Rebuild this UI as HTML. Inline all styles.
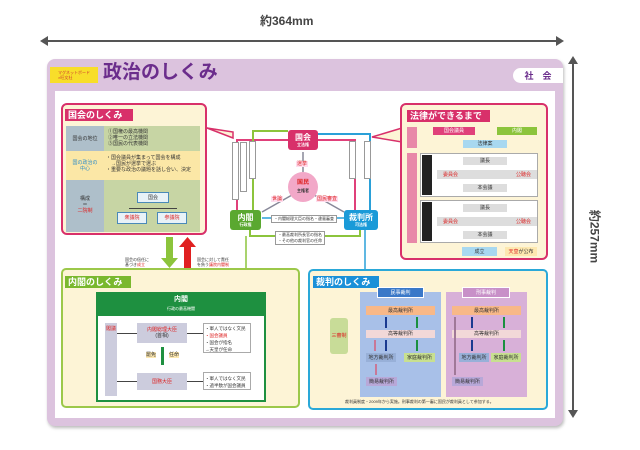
<!DOCTYPE html>
<html><head><meta charset="utf-8"><style>
*{margin:0;padding:0;box-sizing:border-box}
body{width:640px;height:450px;background:#fff;position:relative;overflow:hidden;font-family:"Liberation Sans","Noto Sans CJK JP",sans-serif}
.a{position:absolute}
.t{font-size:5px;line-height:6px;color:#333;text-align:center}
.tab{position:absolute;color:#fff;font-weight:bold;font-size:9px;line-height:12px;padding-left:3px}
.c{display:flex;align-items:center;justify-content:center}
</style></head><body>
<div class="a" style="left:260px;top:12px;font-size:12px;font-weight:bold;color:#444">約364mm</div>
<div class="a" style="left:46px;top:40px;width:512px;height:2px;background:#555"></div>
<div class="a" style="left:40px;top:36px;border-right:8px solid #555;border-top:5px solid transparent;border-bottom:5px solid transparent"></div>
<div class="a" style="left:556px;top:36px;border-left:8px solid #555;border-top:5px solid transparent;border-bottom:5px solid transparent"></div>
<div class="a" style="left:572px;top:62px;width:2px;height:350px;background:#555"></div>
<div class="a" style="left:568px;top:56px;border-bottom:8px solid #555;border-left:5px solid transparent;border-right:5px solid transparent"></div>
<div class="a" style="left:568px;top:410px;border-top:8px solid #555;border-left:5px solid transparent;border-right:5px solid transparent"></div>
<div class="a" style="left:560px;top:228px;font-size:12px;font-weight:bold;color:#444;transform:rotate(90deg);transform-origin:center;width:70px;text-align:center">約257mm</div>

<div class="a" style="left:47px;top:59px;width:516px;height:367px;background:#dcc3de;border-radius:8px;box-shadow:1px 2px 3px #bbb"></div>
<div class="a" style="left:55px;top:91px;width:500px;height:327px;background:#fff"></div>
<div class="a c" style="left:50px;top:67px;width:48px;height:16px;background:#f8de2a;font-size:4px;color:#c33;line-height:5px;flex-direction:column">マグネットボード<br>×旺文社</div>
<div class="a" style="left:103px;top:61px;font-size:19px;font-weight:bold;color:#6b2d8c;line-height:23px">政治のしくみ</div>
<div class="a c" style="left:513px;top:68px;width:50px;height:15px;background:#fff;border-radius:8px 0 0 8px;font-size:9px;font-weight:bold;color:#6b2d8c">社　会</div>

<div class="a" style="left:61px;top:103px;width:146px;height:132px;background:#fdf4d6;border:2px solid #d8306a;border-radius:6px"></div>
<div class="tab" style="left:65px;top:109px;width:68px;background:#d8306a">国会のしくみ</div>
<div class="a" style="left:66px;top:126px;width:38px;height:25px;background:#aebfca"></div>
<div class="a" style="left:104px;top:126px;width:96px;height:25px;background:#c7d5a4"></div>
<div class="a t" style="left:66px;top:136px;width:38px">国会の地位</div>
<div class="a t" style="left:108px;top:129px;text-align:left">①国権の最高機関<br>②唯一の立法機関<br>③国民の代表機関</div>
<div class="a" style="left:66px;top:151px;width:134px;height:29px;background:#fbe7a6"></div>
<div class="a t" style="left:66px;top:160px;width:38px;color:#2a8ac8">国の政治の<br>中心</div>
<div class="a t" style="left:106px;top:155px;text-align:left">・国会議員が集まって国会を構成<br>　→国民が選挙で選ぶ<br>・重要な政治の議題を話し合い、決定</div>
<div class="a" style="left:66px;top:180px;width:38px;height:52px;background:#aebfca"></div>
<div class="a" style="left:104px;top:180px;width:96px;height:52px;background:#c7d5a4"></div>
<div class="a t" style="left:66px;top:196px;width:38px">構成<br>＝<br><span style="color:#d22">二院制</span></div>
<div class="a t c" style="left:137px;top:192px;width:32px;height:11px;background:#e8f2f8;border:1px solid #4a8ab8">国会</div>
<div class="a" style="left:129px;top:208px;width:48px;height:1px;background:#444"></div>
<div class="a t c" style="left:117px;top:212px;width:30px;height:12px;background:#e8f2f8;border:1px solid #4a8ab8;color:#d22">衆議院</div>
<div class="a t c" style="left:157px;top:212px;width:30px;height:12px;background:#e8f2f8;border:1px solid #4a8ab8;color:#d22">参議院</div>

<svg class="a" style="left:0;top:0" width="640" height="450">
 <polygon points="207,128 233,132 233,138" fill="#fdf4d6" stroke="#d8306a" stroke-width="1.5"/>
 <polygon points="402,128 372,137 402,142" fill="#fdf4d6" stroke="#d8306a" stroke-width="1.5"/>
 <polyline points="288,140 237,140 237,210" fill="none" stroke="#e0407a" stroke-width="2"/>
 <polyline points="318,140 355,140 355,210" fill="none" stroke="#e0407a" stroke-width="2"/>
 <polyline points="253,210 253,131 288,131" fill="none" stroke="#8cc43c" stroke-width="2"/>
 <polyline points="250,230 250,236 360,236 360,230" fill="none" stroke="#8cc43c" stroke-width="2"/>
 <polyline points="370,210 370,134 318,134" fill="none" stroke="#2aa0d8" stroke-width="2"/>
 <line x1="345" y1="218" x2="262" y2="218" stroke="#2aa0d8" stroke-width="1.5"/>
 <line x1="303" y1="172" x2="303" y2="152" stroke="#889" stroke-width="1.5"/>
 <line x1="292" y1="195" x2="262" y2="212" stroke="#889" stroke-width="1.5"/>
 <line x1="314" y1="195" x2="344" y2="212" stroke="#889" stroke-width="1.5"/>
 <line x1="246" y1="236" x2="246" y2="268" stroke="#8cc43c" stroke-width="1.5"/>
 <line x1="365" y1="230" x2="365" y2="270" stroke="#2aa0d8" stroke-width="1.5"/>
 <circle cx="303" cy="187" r="15" fill="#f2a8c8"/>
 <rect x="166" y="237" width="7" height="22" fill="#8cc43c"/>
 <polygon points="161,258 178,258 169.5,268" fill="#8cc43c"/>
 <rect x="184" y="246" width="7" height="23" fill="#e02020"/>
 <polygon points="179,247 196,247 187.5,237" fill="#e02020"/>
</svg>
<div class="a c" style="left:288px;top:130px;width:30px;height:20px;background:#d8306a;border-radius:3px;color:#fff;font-size:8px;font-weight:bold;flex-direction:column;line-height:9px">国会<span style="font-size:4px;line-height:5px">立法権</span></div>
<div class="a c" style="left:289px;top:178px;width:28px;height:18px;color:#d22;font-size:6px;font-weight:bold;flex-direction:column;line-height:7px">国民<span style="font-size:4px;color:#333">主権者</span></div>
<div class="a c" style="left:230px;top:210px;width:31px;height:20px;background:#5aa830;border-radius:3px;color:#fff;font-size:8px;font-weight:bold;flex-direction:column;line-height:9px">内閣<span style="font-size:4px;line-height:5px">行政権</span></div>
<div class="a c" style="left:344px;top:210px;width:34px;height:20px;background:#1a9ad8;border-radius:3px;color:#fff;font-size:8px;font-weight:bold;flex-direction:column;line-height:9px">裁判所<span style="font-size:4px;line-height:5px">司法権</span></div>
<div class="a t" style="left:296px;top:161px;background:#fde;color:#d22;padding:0 1px">選挙</div>
<div class="a t" style="left:271px;top:196px;background:#fde;color:#d22;padding:0 1px">世論</div>
<div class="a t" style="left:316px;top:196px;background:#fde;color:#d22;padding:0 1px">国民審査</div>
<div class="a" style="left:232px;top:142px;width:7px;height:58px;background:#fff;border:1px solid #999"></div>
<div class="a" style="left:240px;top:142px;width:7px;height:50px;background:#fff;border:1px solid #999"></div>
<div class="a" style="left:249px;top:141px;width:7px;height:38px;background:#fff;border:1px solid #999"></div>
<div class="a" style="left:349px;top:141px;width:7px;height:38px;background:#fff;border:1px solid #999"></div>
<div class="a" style="left:364px;top:141px;width:7px;height:38px;background:#fff;border:1px solid #999"></div>
<div class="a t" style="left:271px;top:215px;background:#fff;border:1px solid #999;padding:0 2px;font-size:4px">・内閣総理大臣の指名・違憲審査</div>
<div class="a t" style="left:275px;top:231px;background:#fff;border:1px solid #999;padding:0 2px;font-size:4px;text-align:left">・最高裁判所長官の指名<br>・その他の裁判官の任命</div>
<div class="a t" style="left:125px;top:257px;font-size:4px;line-height:5px;text-align:left;background:#fff">国会の信任に<br>基づき<span style="color:#d22">成立</span></div>
<div class="a t" style="left:197px;top:257px;font-size:4px;line-height:5px;text-align:left;background:#fff">国会に対して責任<br>を負う<span style="color:#d22">議院内閣制</span></div>

<div class="a" style="left:400px;top:103px;width:148px;height:157px;background:#fdf4d6;border:2px solid #d8306a;border-radius:6px"></div>
<div class="tab" style="left:407px;top:110px;width:83px;background:#d8306a">法律ができるまで</div>
<div class="a" style="left:407px;top:127px;width:10px;height:21px;background:#e888a8"></div>
<div class="a" style="left:407px;top:153px;width:10px;height:90px;background:#e888a8"></div>
<div class="a t c" style="left:433px;top:127px;width:42px;height:8px;background:#e0407a;color:#fff">国会議員</div>
<div class="a t c" style="left:497px;top:127px;width:40px;height:8px;background:#8cc43c;color:#fff">内閣</div>
<div class="a t c" style="left:463px;top:140px;width:44px;height:8px;background:#a8d8f0">法律案</div>
<div class="a" style="left:420px;top:153px;width:118px;height:44px;background:#fff;border:1px solid #aaa"></div>
<div class="a" style="left:422px;top:155px;width:10px;height:40px;background:#222"></div>
<div class="a t c" style="left:463px;top:157px;width:44px;height:8px;background:#ddd">議長</div>
<div class="a t c" style="left:437px;top:170px;width:100px;height:9px;background:#ddd;color:#d22;justify-content:space-between;padding:0 6px"><span>委員会</span><span>公聴会</span></div>
<div class="a t c" style="left:463px;top:184px;width:44px;height:8px;background:#ddd">本会議</div>
<div class="a" style="left:420px;top:200px;width:118px;height:43px;background:#fff;border:1px solid #aaa"></div>
<div class="a" style="left:422px;top:202px;width:10px;height:39px;background:#222"></div>
<div class="a t c" style="left:463px;top:204px;width:44px;height:8px;background:#ddd">議長</div>
<div class="a t c" style="left:437px;top:217px;width:100px;height:9px;background:#ddd;color:#d22;justify-content:space-between;padding:0 6px"><span>委員会</span><span>公聴会</span></div>
<div class="a t c" style="left:463px;top:231px;width:44px;height:8px;background:#ddd">本会議</div>
<div class="a t c" style="left:462px;top:247px;width:35px;height:9px;background:#a8d8f0">成立</div>
<div class="a t c" style="left:505px;top:247px;width:32px;height:9px;background:#fde8b0"><span style="color:#d22">天皇</span>が公布</div>

<div class="a" style="left:61px;top:268px;width:239px;height:140px;background:#fdf4d6;border:2px solid #9cc84a;border-radius:5px"></div>
<div class="tab" style="left:65px;top:276px;width:66px;background:#7ab82e">内閣のしくみ</div>
<div class="a" style="left:96px;top:292px;width:170px;height:110px;background:#fff;border:2px solid #1e9040"></div>
<div class="a c" style="left:96px;top:292px;width:170px;height:24px;background:#1e9040;color:#fff;font-size:7px;font-weight:bold;flex-direction:column;line-height:9px">内閣<span style="font-size:4px;font-weight:normal">行政の最高機関</span></div>
<div class="a" style="left:105px;top:323px;width:12px;height:73px;background:#ccd"></div>
<div class="a t" style="left:106px;top:326px;color:#d22;width:10px">閣議</div>
<div class="a" style="left:117px;top:333px;width:20px;height:1px;background:#444"></div>
<div class="a" style="left:117px;top:381px;width:20px;height:1px;background:#444"></div>
<div class="a t c" style="left:137px;top:323px;width:50px;height:20px;background:#ccd;color:#d22;flex-direction:column">内閣総理大臣<span style="color:#333">(首相)</span></div>
<div class="a t c" style="left:137px;top:373px;width:50px;height:17px;background:#ccd;color:#d22">国務大臣</div>
<div class="a" style="left:161px;top:347px;width:3px;height:18px;background:#1e9040"></div>
<div class="a t" style="left:146px;top:352px;background:#fde8b0">罷免</div>
<div class="a t" style="left:169px;top:352px;background:#fde8b0">任命</div>
<div class="a" style="left:187px;top:333px;width:16px;height:1px;background:#444"></div>
<div class="a" style="left:187px;top:381px;width:16px;height:1px;background:#444"></div>
<div class="a t" style="left:203px;top:323px;width:48px;height:30px;border:1px solid #aaa;text-align:left;padding:1px;font-size:4.5px;line-height:7px;background:#fff">・軍人ではなく文民<br><span style="color:#d22">・国会議員</span><br>・国会が指名<br>→天皇が任命</div>
<div class="a t" style="left:203px;top:372px;width:48px;height:18px;border:1px solid #aaa;text-align:left;padding:2px 1px;font-size:4.5px;line-height:7px;background:#fff">・軍人ではなく文民<br>・過半数が国会議員</div>

<div class="a" style="left:308px;top:269px;width:240px;height:141px;background:#fdf4d6;border:2px solid #2aa8d8;border-radius:5px"></div>
<div class="tab" style="left:313px;top:276px;width:66px;background:#1a90d8">裁判のしくみ</div>
<div class="a t c" style="left:330px;top:318px;width:18px;height:36px;background:#c8dc98;border-radius:3px;color:#d22">三審制</div>
<div class="a" style="left:360px;top:292px;width:81px;height:105px;background:#a8c0e8"></div>
<div class="a t c" style="left:377px;top:287px;width:47px;height:11px;background:#3a78c8;color:#fff;border:1px solid #fff">民事裁判</div>
<div class="a t c" style="left:366px;top:306px;width:69px;height:9px;background:#f8b888">最高裁判所</div>
<div class="a t c" style="left:366px;top:330px;width:69px;height:8px;background:#f2d8d8">高等裁判所</div>
<div class="a t c" style="left:366px;top:353px;width:30px;height:9px;background:#98b0d8">地方裁判所</div>
<div class="a t c" style="left:404px;top:353px;width:31px;height:9px;background:#c8e090">家庭裁判所</div>
<div class="a t c" style="left:366px;top:377px;width:31px;height:9px;background:#b8a8d8">簡易裁判所</div>
<div class="a" style="left:446px;top:292px;width:81px;height:105px;background:#d8b0d8"></div>
<div class="a t c" style="left:462px;top:287px;width:48px;height:11px;background:#c890c8;color:#fff;border:1px solid #fff">刑事裁判</div>
<div class="a t c" style="left:452px;top:306px;width:69px;height:9px;background:#f8b888">最高裁判所</div>
<div class="a t c" style="left:452px;top:330px;width:69px;height:8px;background:#f2d8d8">高等裁判所</div>
<div class="a t c" style="left:459px;top:353px;width:30px;height:9px;background:#98b0d8">地方裁判所</div>
<div class="a t c" style="left:491px;top:353px;width:30px;height:9px;background:#c8e090">家庭裁判所</div>
<div class="a t c" style="left:452px;top:377px;width:31px;height:9px;background:#b8a8d8">簡易裁判所</div>
<svg class="a" style="left:0;top:0" width="640" height="450">
 <g stroke-width="2">
 <line x1="386" y1="328" x2="386" y2="317" stroke="#1a3a90"/><line x1="417" y1="328" x2="417" y2="317" stroke="#1a9040"/>
 <line x1="386" y1="351" x2="386" y2="340" stroke="#1a3a90"/><line x1="417" y1="351" x2="417" y2="340" stroke="#1a9040"/>
 <line x1="375" y1="351" x2="375" y2="340" stroke="#c87898"/><line x1="376" y1="375" x2="376" y2="364" stroke="#c87898"/>
 <line x1="472" y1="328" x2="472" y2="317" stroke="#1a3a90"/><line x1="504" y1="328" x2="504" y2="317" stroke="#1a9040"/>
 <line x1="472" y1="351" x2="472" y2="340" stroke="#1a3a90"/><line x1="504" y1="351" x2="504" y2="340" stroke="#1a9040"/>
 <line x1="455" y1="375" x2="455" y2="317" stroke="#a07898"/>
 </g>
</svg>
<div class="a t" style="left:345px;top:399px;font-size:4px">裁判員制度・2009年から実施。刑事裁判の第一審に国民が裁判員として参加する。</div>
</body></html>
